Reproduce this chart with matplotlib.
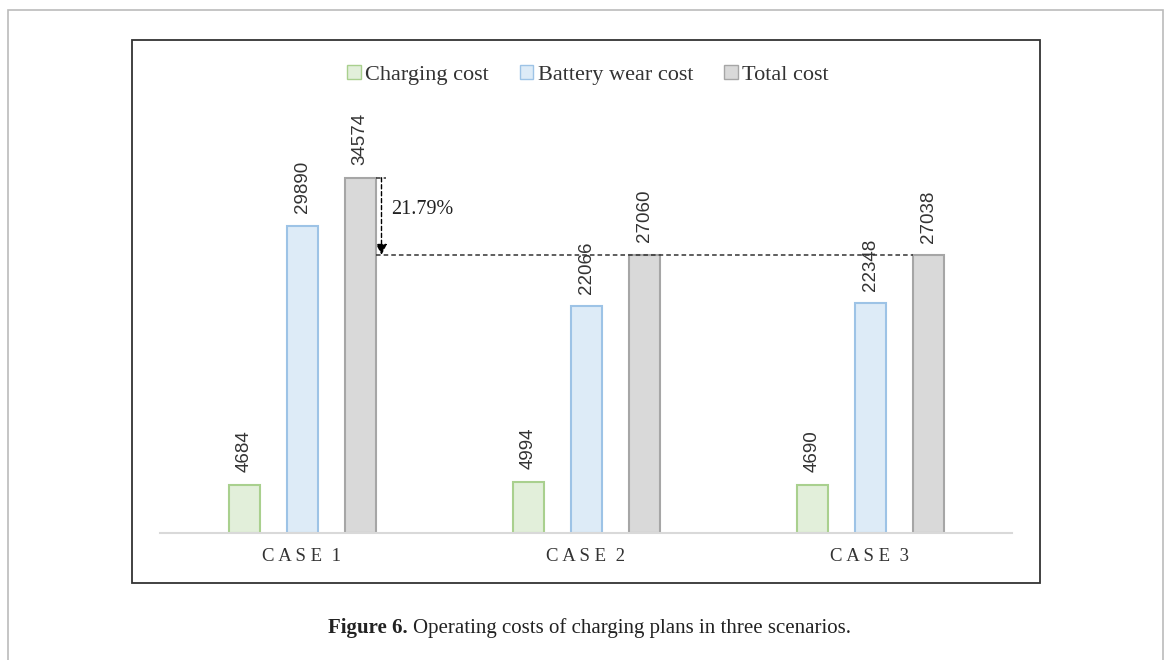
import matplotlib

matplotlib.use("Agg")
import matplotlib.pyplot as plt
import numpy as np
from matplotlib.patches import Rectangle, Patch

cases = ["C A S E  1", "C A S E  2", "C A S E  3"]
series = ["Charging cost", "Battery wear cost", "Total cost"]
charging = [4684, 4994, 4690]
wear = [29890, 22066, 22348]
total = [34574, 27060, 27038]
reduction_label = "21.79%"

fills = ["#E2EFDA", "#DDEBF7", "#D9D9D9"]
edges = ["#A9D08E", "#9DC3E6", "#A6A6A6"]

plt.rcParams["font.family"] = ["Liberation Serif", "DejaVu Serif"]

W, H = 1167, 660
fig = plt.figure(figsize=(W / 100, H / 100), dpi=100)

# page frame and chart frame (figure pixel coords)
fig.patches.append(Rectangle((8 / W, -0.1), 1155 / W, 1 - 10 / H + 0.1,
                             transform=fig.transFigure, fill=False,
                             ec="#BBBBBB", lw=1.2))
fig.patches.append(Rectangle((132 / W, 1 - 583 / H), 908 / W, 543 / H,
                             transform=fig.transFigure, fill=False,
                             ec="#333333", lw=1.3))

ax = fig.add_axes([160 / W, 1 - 533 / H, 852 / W, 411 / H])
ax.set_xlim(-0.5, 2.5)
ax.set_ylim(0, 40000)

x = np.arange(len(cases))
off = 58 / 284
bw = 31 / 284
for i, vals in enumerate([charging, wear, total]):
    xs = x + (i - 1) * off
    ax.bar(xs, vals, width=bw, color=fills[i], edgecolor=edges[i], lw=1.5,
           label=series[i], zorder=2)
    for xi, v in zip(xs, vals):
        ax.annotate(f"{v}", (xi, v), xytext=(0, 9), textcoords="offset points",
                    rotation=90, ha="center", va="bottom", fontsize=13.5,
                    family="Liberation Sans", color="#333333")

for s in ["top", "right", "left"]:
    ax.spines[s].set_visible(False)
ax.spines["bottom"].set_color("#D9D9D9")
ax.spines["bottom"].set_linewidth(1.5)
ax.set_yticks([])
ax.set_xticks(x)
ax.set_xticklabels(cases, fontsize=13.5, color="#333333")
ax.tick_params(axis="x", length=0, pad=11)

# reduction annotation: case 1 total -> case 2 total
x_r = x[0] + off + bw / 2
x_a = x_r + 6 / 284
ax.plot([x_r, x[2] + off - bw / 2], [total[1], total[1]], ls=(0, (3, 2)),
        color="#333333", lw=1.1, zorder=3)
ax.plot([x_r, x_a + 4 / 284], [total[0], total[0]], ls=(0, (3, 2)),
        color="#333333", lw=1.1, zorder=3)
ax.annotate("", xy=(x_a, total[1]), xytext=(x_a, total[0]),
            arrowprops=dict(arrowstyle="-|>", ls=(0, (3, 2)), color="black",
                            lw=1.0, mutation_scale=16, shrinkA=0, shrinkB=0))
ax.text(x_a + 10 / 284, (total[0] + total[1]) / 2 + 700, reduction_label,
        fontsize=14.5, va="center", ha="left", color="#222222")

handles = [Patch(facecolor=fills[i], edgecolor=edges[i], label=series[i])
           for i in range(3)]
fig.legend(handles=handles, loc="center", bbox_to_anchor=(588 / W, 1 - 75 / H),
           ncol=3, frameon=False, fontsize=16, handlelength=0.6,
           handleheight=0.6, handletextpad=0.2, columnspacing=1.4,
           labelcolor="#333333")

# caption: bold lead-in followed by plain text
cap_y = 1 - 628 / H
bold = fig.text(328 / W, cap_y, "Figure 6.", ha="left", va="center",
                fontsize=15, fontweight="bold", color="#222222")
fig.canvas.draw()
bb = bold.get_window_extent()
fig.text((bb.x1 + 5) / W, cap_y, "Operating costs of charging plans in three scenarios.",
         ha="left", va="center", fontsize=15, color="#222222")

fig.savefig("out.png", dpi=100)
